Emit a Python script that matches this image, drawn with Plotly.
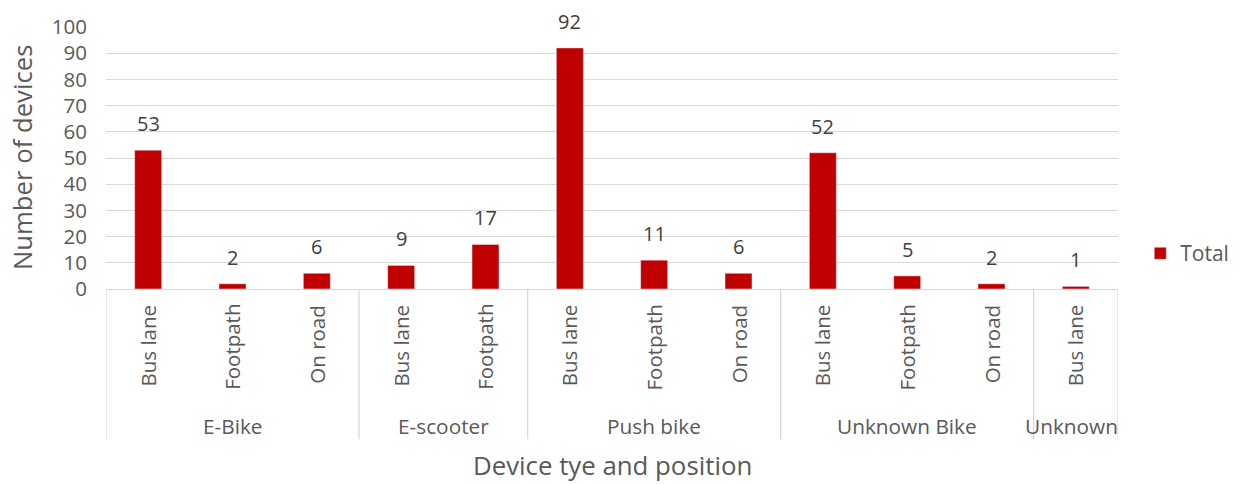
import plotly.graph_objects as go

groups = ["E-Bike", "E-Bike", "E-Bike", "E-scooter", "E-scooter",
          "Push bike", "Push bike", "Push bike",
          "Unknown Bike", "Unknown Bike", "Unknown Bike", "Unknown"]
positions = ["Bus lane", "Footpath", "On road", "Bus lane", "Footpath",
             "Bus lane", "Footpath", "On road",
             "Bus lane", "Footpath", "On road", "Bus lane"]
totals = [53, 2, 6, 9, 17, 92, 11, 6, 52, 5, 2, 1]
y_ticks = [0, 10, 20, 30, 40, 50, 60, 70, 80, 90, 100]

FONT = "Open Sans"
RED = "#c00000"
GRID = "#d9d9d9"
TXT = "#595959"

xs = list(range(len(totals)))

fig = go.Figure()
fig.add_trace(go.Bar(x=xs, y=totals, name="Total", marker_color=RED,
                     width=0.32, showlegend=True))

annotations = []
# data labels
for x, v in zip(xs, totals):
    annotations.append(dict(x=x, y=v, xref="x", yref="y", text=str(v),
                            showarrow=False, yanchor="bottom", yshift=11,
                            font=dict(family=FONT, size=20, color="#404040")))
# sub-category labels
for x, p in zip(xs, positions):
    annotations.append(dict(x=x, y=-0.051, xref="x", yref="paper", text=p,
                            showarrow=False, textangle=-90, yanchor="top",
                            xanchor="center",
                            font=dict(family=FONT, size=20.5, color=TXT)))
# group labels and separators
shapes = []
bounds = []
start = 0
for i in range(1, len(groups) + 1):
    if i == len(groups) or groups[i] != groups[i - 1]:
        bounds.append((start, i - 1, groups[start]))
        start = i
sep_xs = {-0.5}
for k, (s, e, g) in enumerate(bounds):
    if k == len(bounds) - 1 and e - s == 0:
        # narrow last group: label kept inside the plot's right edge
        ann = dict(x=e + 0.5, xanchor="right", xshift=2)
    else:
        ann = dict(x=(s + e) / 2, xanchor="center")
    ann.update(y=-0.524, xref="x", yref="paper", text=g, showarrow=False,
               yanchor="middle",
               font=dict(family=FONT, size=20.8, color=TXT))
    annotations.append(ann)
    sep_xs.add(e + 0.5)
for sx in sorted(sep_xs):
    shapes.append(dict(type="line", xref="x", yref="paper", x0=sx, x1=sx,
                       y0=0, y1=-0.573, line=dict(color=GRID, width=1.3)))

# axis titles
annotations.append(dict(x=0.5, y=-0.67, xref="paper", yref="paper",
                        text="Device tye and position", showarrow=False,
                        yanchor="middle",
                        font=dict(family=FONT, size=25.8, color=TXT)))
annotations.append(dict(x=-0.083, y=0.5, xref="paper", yref="paper",
                        text="Number of devices", showarrow=False,
                        textangle=-90, xanchor="center",
                        font=dict(family=FONT, size=25.7, color=TXT)))

fig.update_layout(
    width=1250, height=484,
    margin=dict(l=106, r=132, t=22, b=195),
    paper_bgcolor="white", plot_bgcolor="white",
    annotations=annotations, shapes=shapes,
    legend=dict(x=1.022, y=0.135, xanchor="left", yanchor="middle",
                font=dict(family=FONT, size=21, color=TXT),
                itemwidth=30),
    xaxis=dict(range=[-0.5, len(totals) - 0.5], showticklabels=False,
               showgrid=False, zeroline=False, showline=True,
               linecolor=GRID, linewidth=1.3),
    yaxis=dict(range=[0, 100], tickvals=y_ticks, showgrid=True,
               gridcolor=GRID, gridwidth=1.3, zeroline=False,
               ticklabelstandoff=18, ticklabeloverflow="allow",
               tickfont=dict(family=FONT, size=20.5, color=TXT)),
)

fig.write_html("out.html", config={"displayModeBar": False},
               post_script="document.body.style.margin='0';"
                           "document.body.style.overflow='hidden';")
